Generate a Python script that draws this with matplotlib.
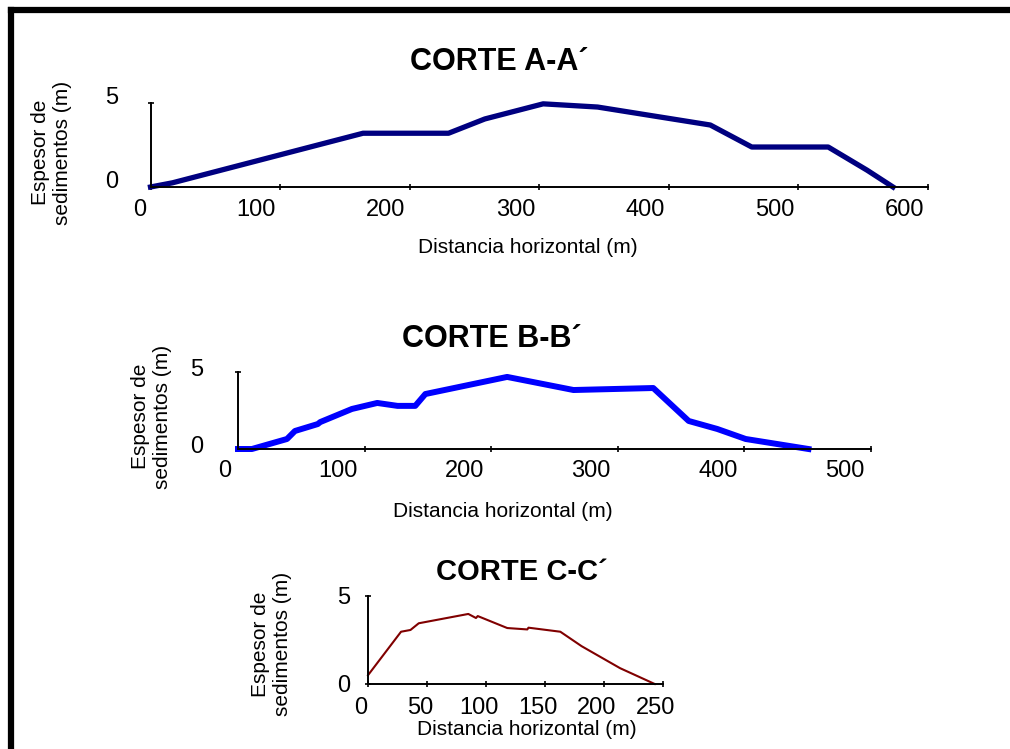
import numpy as np
import matplotlib.pyplot as plt
from matplotlib.transforms import ScaledTranslation
from matplotlib.lines import Line2D

plt.rcParams['font.family'] = ['Liberation Sans', 'DejaVu Sans']

# CORTE A-A´
a_dist = [0, 17, 164, 230, 258, 303, 345, 432, 464, 523, 553, 573]
a_esp = [0, 0.25, 3.2, 3.2, 4.05, 4.95, 4.76, 3.69, 2.38, 2.38, 1.0, 0]
a_xticks = [0, 100, 200, 300, 400, 500, 600]

# CORTE B-B´
b_dist = [0, 11, 38.7, 45, 63, 65, 90, 110, 126, 140, 148, 212.6, 265, 328,
          356, 378.6, 401, 450.6]
b_esp = [0, 0, 0.65, 1.17, 1.62, 1.75, 2.6, 2.99, 2.8, 2.8, 3.57, 4.68, 3.83,
         3.96, 1.82, 1.30, 0.65, 0]
b_xticks = [0, 100, 200, 300, 400, 500]

# CORTE C-C´
c_dist = [0, 28, 36, 43, 85, 91.5, 93, 118, 135, 136, 163, 181, 213.6, 243]
c_esp = [0.5, 2.97, 3.07, 3.45, 3.98, 3.75, 3.86, 3.18, 3.1, 3.2, 2.97, 2.15,
         0.9, 0]
c_xticks = [0, 50, 100, 150, 200, 250]

yticks = [0, 5]
W, H = 1010, 749

fig = plt.figure(figsize=(W / 100, H / 100), dpi=100)


def fx(px):
    return px / W


def fy(py):
    return 1 - py / H


def make_axes(x0, x1, y0, y5, xmax):
    ax = fig.add_axes([fx(x0), fy(y0), fx(x1 - x0), (y0 - y5) / H])
    ax.set_xlim(0, xmax)
    ax.set_ylim(0, 5)
    ax.patch.set_alpha(0)
    for s in ['top', 'right']:
        ax.spines[s].set_visible(False)
    for s in ['left', 'bottom']:
        ax.spines[s].set_linewidth(1.4)
    return ax


def shift(labels, dx, dy):
    off = ScaledTranslation(dx / 100, dy / 100, fig.dpi_scale_trans)
    for lab in labels:
        lab.set_transform(lab.get_transform() + off)


def style(ax, xt, xpad, ypad, xdx, ydy, xha):
    ax.set_xticks(xt)
    ax.set_yticks(yticks)
    ax.tick_params(direction='inout', length=4, width=1.2, labelsize=17,
                   color='black')
    ax.tick_params(axis='x', pad=xpad)
    ax.tick_params(axis='y', pad=ypad)
    for lab in ax.get_xticklabels():
        lab.set_ha(xha)
    shift(ax.get_xticklabels(), xdx, 0)
    shift(ax.get_yticklabels(), 0, ydy)


ax_a = make_axes(150.5, 928, 187, 103, 600)
ax_a.plot(a_dist, a_esp, color='#000080', lw=3.8, clip_on=False,
          solid_joinstyle='round')
style(ax_a, a_xticks, 7, 21, -4, 7.5, 'right')

ax_b = make_axes(238, 871, 449, 372, 500)
ax_b.plot(b_dist, b_esp, color='#0000FF', lw=4.3, clip_on=False,
          solid_joinstyle='round')
style(ax_b, b_xticks, 6, 23, -7, 4.5, 'right')

ax_c = make_axes(368, 663, 684, 596, 250)
ax_c.plot(c_dist, c_esp, color='#800000', lw=1.5, clip_on=False)
style(ax_c, c_xticks, 7.4, 11, -7, 0, 'center')

# titles
fig.text(fx(499.5), fy(70), 'CORTE A-A´', fontsize=22, fontweight='bold',
         ha='center', va='baseline')
fig.text(fx(492), fy(347), 'CORTE B-B´', fontsize=22, fontweight='bold',
         ha='center', va='baseline')
fig.text(fx(522), fy(580), 'CORTE C-C´', fontsize=21, fontweight='bold',
         ha='center', va='baseline')

# axis labels
xlab = 'Distancia horizontal (m)'
ylab = 'Espesor de\nsedimentos (m)'
for x, y in [(527.5, 253), (503, 517), (527, 735)]:
    fig.text(fx(x), fy(y), xlab, fontsize=15, ha='center', va='baseline')
for x, y in [(51.5, 152.5), (151.5, 416.5), (271.5, 644)]:
    fig.text(fx(x), fy(y), ylab, fontsize=15, ha='center', va='center',
             rotation=90, multialignment='center', linespacing=1.15)

# outer frame (left and top edges)
fig.add_artist(Line2D([fx(10.5), fx(10.5)], [fy(10), -0.05], color='black',
                      lw=4.5, transform=fig.transFigure, solid_capstyle='projecting'))
fig.add_artist(Line2D([fx(10.5), 1.05], [fy(10), fy(10)], color='black',
                      lw=4.5, transform=fig.transFigure, solid_capstyle='projecting'))

fig.savefig('out.png', dpi=100)
